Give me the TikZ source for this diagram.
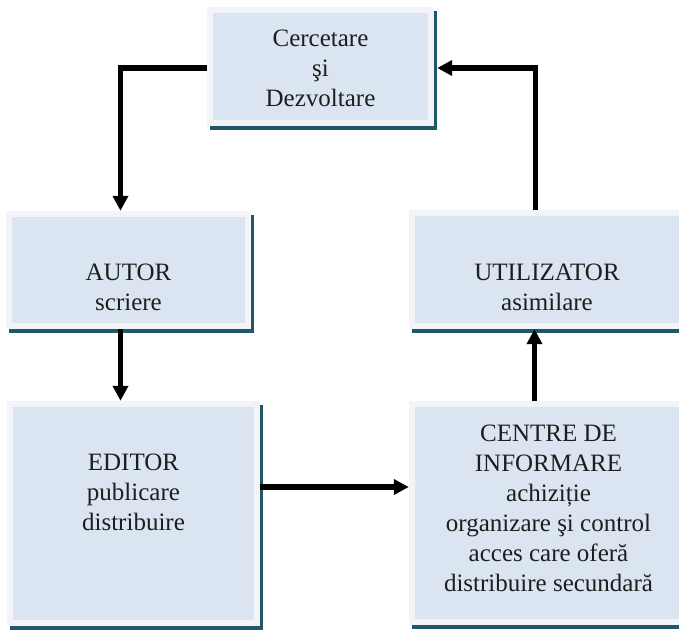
\documentclass[tikz,border=0pt]{standalone}
\usepackage{fontspec}
\setmainfont{Liberation Serif}
\usetikzlibrary{arrows.meta,shadows}
\definecolor{boxfill}{HTML}{DAE5F1}
\definecolor{boxframe}{HTML}{F2F4F8}
\definecolor{boxshade}{HTML}{1F5868}
\definecolor{txt}{HTML}{1E1E1E}
\begin{document}
\begin{tikzpicture}[x=1pt,y=-1pt,
  box/.style={rectangle, fill=boxframe, inner sep=0pt,
    drop shadow={shadow xshift=2.5pt, shadow yshift=-3.5pt, fill=boxshade, opacity=1},
    path picture={\fill[boxfill]
      ([shift={(6pt,-6pt)}]path picture bounding box.north west) rectangle
      ([shift={(-6pt,6pt)}]path picture bounding box.south east);}},
  lbl/.style={align=center, font=\fontsize{25}{30}\selectfont, text=txt,
    inner sep=0pt, anchor=base},
  arr/.style={line width=5.3pt, -{Triangle[length=15pt,width=15pt]}}]

\useasboundingbox (0,0) rectangle (679,629);
\clip (0,0) rectangle (679,629);
\fill[white] (0,0) rectangle (679,629);

% boxes (outer frame size)
\node[box, minimum width=227pt, minimum height=119pt] (cd)     at (320.5,66.5) {};
\node[box, minimum width=245pt, minimum height=118pt] (autor)  at (128.5,270)  {};
\node[box, minimum width=276pt, minimum height=119pt] (util)   at (547,269.5)  {};
\node[box, minimum width=253pt, minimum height=225pt] (editor) at (133.5,513.5) {};
\node[box, minimum width=279pt, minimum height=224pt] (centre) at (548.5,513)  {};

% labels (placed by the baseline of their last line)
\node[lbl] (cdT)     at (320.5,106) {Cercetare\\şi\\Dezvoltare};
\node[lbl] (autorT)  at (128.5,310) {AUTOR\\scriere};
\node[lbl] (utilT)   at (547,310)   {UTILIZATOR\\asimilare};
\node[lbl] (editorT) at (133.5,530) {EDITOR\\publicare\\distribuire};
\node[lbl] (centreT) at (548.5,591) {CENTRE DE\\INFORMARE\\achiziție\\organizare şi control\\acces care oferă\\distribuire secundară};

% connectors
\draw[arr] ([yshift=-1.5pt]cd.west) -| ([xshift=-8pt]autor.north);
\draw[arr] ([xshift=-8pt]autor.south) -- ([xshift=-8pt]autor.south |- editor.north);
\draw[arr] ([yshift=26.5pt]editor.east) -- ([yshift=26.5pt]editor.east -| centre.west);
\draw[arr] ([xshift=-14pt]centre.north) -- ([xshift=-14pt]centre.north |- util.south);
\draw[arr] ([xshift=-11.5pt]util.north) |- ([xshift=3pt,yshift=-1.5pt]cd.east);
\end{tikzpicture}
\end{document}
